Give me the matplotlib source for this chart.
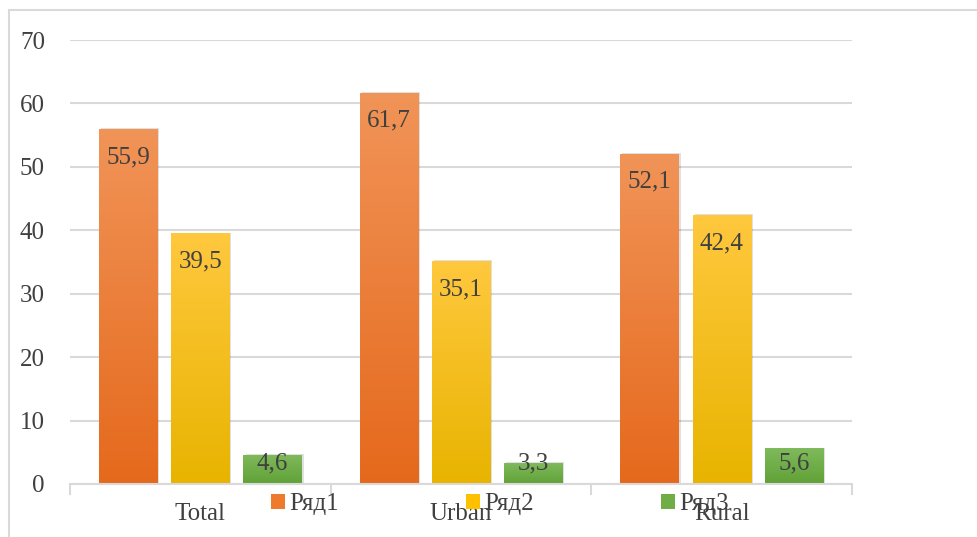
#!/usr/bin/env python3

import matplotlib
matplotlib.use('Agg')
import matplotlib.pyplot as plt
import numpy as np
from matplotlib.colors import LinearSegmentedColormap
from matplotlib.patches import Rectangle


# Data.
categories = ['Total', 'Urban', 'Rural']
series_names = ['Ряд1', 'Ряд2', 'Ряд3']
ryad1 = [55.9, 61.7, 52.1]
ryad2 = [39.5, 35.1, 42.4]
ryad3 = [4.6, 3.3, 5.6]
yticks = [0, 10, 20, 30, 40, 50, 60, 70]

# Colours: (top, bottom) of each gradient, plus the flat legend colour.
grad = [('#F19458', '#E5691C'), ('#FFC83E', '#E8B400'), ('#7FBA5C', '#60A136')]
flat = ['#EE7A2E', '#FFC000', '#70AD47']

matplotlib.rcParams['font.family'] = 'Liberation Serif'
matplotlib.rcParams['font.size'] = 18
text_color = '#404040'
grid_color = '#D9D9D9'

fig = plt.figure(figsize=(9.77, 5.37), dpi=100)
ax = fig.add_axes((0.0716, 0.0987, 0.8004, 0.8268))

# Chart frame.
fig.patches.append(Rectangle((9 / 977, -0.1), 1.2, 1.1 - 10 / 537,
                             transform=fig.transFigure, fill=False,
                             edgecolor=grid_color, linewidth=1.5))

x = np.arange(len(categories))
width = 0.223
offset = 0.277
values = [ryad1, ryad2, ryad3]

for i, vals in enumerate(values):
    pos = x + (i - 1) * offset
    bars = ax.bar(pos, vals, width, color=flat[i], label=series_names[i],
                  zorder=3)
    cmap = LinearSegmentedColormap.from_list('g%d' % i, [grad[i][1], grad[i][0]])
    for b, v in zip(bars, vals):
        # soft shadow
        sh = Rectangle((b.get_x() + 0.008, 0), b.get_width(), v + 0.15,
                       facecolor='#000000', alpha=0.12, edgecolor='none',
                       zorder=2)
        ax.add_patch(sh)
        b.set_facecolor('none')
        b.set_edgecolor('none')
        img = ax.imshow(np.linspace(0, 1, 256).reshape(-1, 1), cmap=cmap,
                        origin='lower', aspect='auto', zorder=3,
                        extent=(b.get_x(), b.get_x() + b.get_width(), 0, v))
        img.set_clip_path(b)
        # inside end label, kept clear of the axis for short bars
        ax.text(b.get_x() + b.get_width() / 2, max(v - 4.4, 3.3),
                ('%.1f' % v).replace('.', ','), ha='center', va='center',
                color=text_color, zorder=5)

ax.set_xlim(-0.5, len(categories) - 0.5)
ax.set_ylim(0, 70)
ax.set_yticks(yticks)
ax.grid(axis='y', color=grid_color, linewidth=1.5, zorder=0)
for s in ['top', 'right', 'left']:
    ax.spines[s].set_visible(False)
ax.spines['bottom'].set_color(grid_color)
ax.spines['bottom'].set_linewidth(1.5)
ax.spines['bottom'].set_zorder(4)
ax.tick_params(axis='y', length=0, pad=18, labelcolor=text_color)

ax.set_xticks(x)
ax.set_xticklabels(categories)
ax.tick_params(axis='x', which='major', length=0, pad=14, labelcolor=text_color)
ax.set_xticks(np.arange(len(categories) + 1) - 0.5, minor=True)
ax.tick_params(axis='x', which='minor', length=8, width=1.5, color=grid_color)

handles = [Rectangle((0, 0), 1, 1, facecolor=c, edgecolor='none') for c in flat]
fig.legend(handles, series_names, loc='center', bbox_to_anchor=(500 / 977, 1 - 504 / 537),
           ncol=3, frameon=False, handlelength=0.56, handleheight=0.56,
           handletextpad=0.15, columnspacing=5.1, labelcolor=text_color,
           borderpad=0)

fig.savefig('out.png', dpi=100, facecolor='white')
